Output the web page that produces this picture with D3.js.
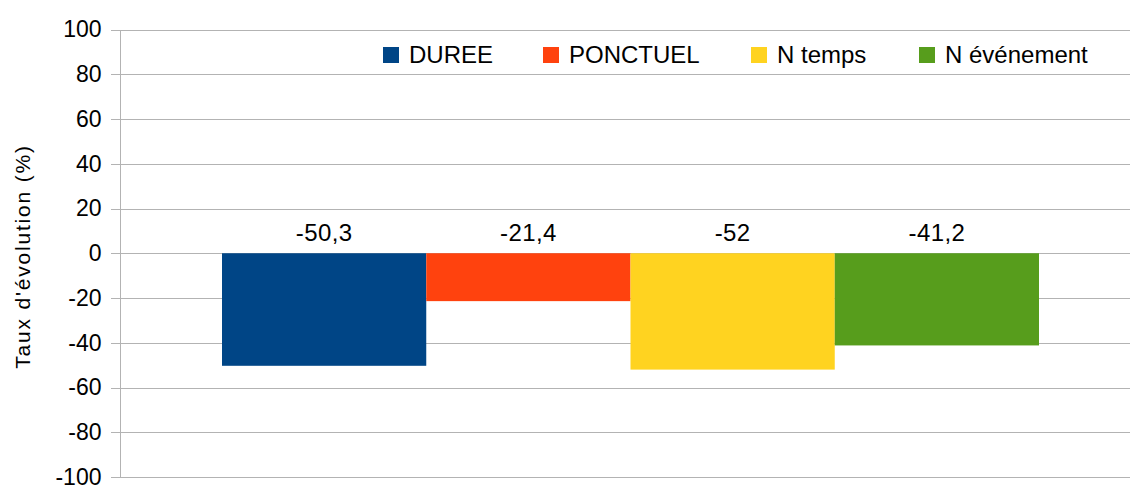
<!DOCTYPE html>
<html>
<head>
<meta charset="utf-8">
<script src="https://cdn.jsdelivr.net/npm/d3@7"></script>
<style>
  html, body { margin: 0; padding: 0; background: #fff; }
  svg { display: block; font-family: "Liberation Sans", Arial, sans-serif; }
</style>
</head>
<body>
<svg id="chart" width="1130" height="487"></svg>
<script>
// Series shown as one group of bars
const seriesNames = ["DUREE", "PONCTUEL", "N temps", "N événement"];
const seriesValues = [-50.3, -21.4, -52, -41.2];
const seriesColors = ["#004586", "#ff420e", "#ffd320", "#579d1c"];
const yTicks = [100, 80, 60, 40, 20, 0, -20, -40, -60, -80, -100];
const yTitle = "Taux d'évolution (%)";

const svg = d3.select("#chart");
const plot = { left: 120.5, right: 1140, top: 29.5, bottom: 477 };

const y = d3.scaleLinear().domain([-100, 100]).range([plot.bottom, plot.top]);

// Bar group occupies the middle of the plot area
const x = d3.scaleBand()
  .domain(seriesNames)
  .range([222, 1039])
  .paddingInner(0)
  .paddingOuter(0);

// Horizontal grid lines with outward ticks
const yAxis = d3.axisLeft(y)
  .tickValues(yTicks)
  .tickSize(-(plot.right - plot.left))
  .tickPadding(19)
  .tickFormat(d => String(d));

const gAxis = svg.append("g")
  .attr("transform", `translate(${plot.left},0)`)
  .call(yAxis);
gAxis.select(".domain").remove();
gAxis.selectAll(".tick line")
  .attr("x1", -10)
  .attr("stroke", "#b3b3b3")
  .attr("stroke-width", 1)
  .attr("shape-rendering", "crispEdges");
gAxis.selectAll(".tick text")
  .attr("font-size", 23)
  .attr("fill", "#000")
  .attr("font-family", "Liberation Sans, Arial, sans-serif");

// Vertical axis line
svg.append("line")
  .attr("x1", plot.left).attr("x2", plot.left)
  .attr("y1", plot.top).attr("y2", plot.bottom)
  .attr("stroke", "#b3b3b3")
  .attr("shape-rendering", "crispEdges");

// Bars
svg.append("g").selectAll("rect")
  .data(seriesNames)
  .join("rect")
  .attr("x", d => x(d))
  .attr("width", x.bandwidth())
  .attr("y", (d, i) => Math.min(y(0), y(seriesValues[i])))
  .attr("height", (d, i) => Math.abs(y(seriesValues[i]) - y(0)))
  .attr("fill", (d, i) => seriesColors[i]);

// Value labels above the zero line
const fmt = v => String(v).replace(".", ",");
svg.append("g").selectAll("text")
  .data(seriesNames)
  .join("text")
  .attr("x", d => x(d) + x.bandwidth() / 2)
  .attr("y", y(0) - 12)
  .attr("text-anchor", "middle")
  .attr("font-size", 24)
  .attr("letter-spacing", 0.4)
  .attr("fill", "#000")
  .text((d, i) => fmt(seriesValues[i]));

// Legend
const legendPos = [383, 543, 751, 919];
const legend = svg.append("g").selectAll("g")
  .data(seriesNames)
  .join("g")
  .attr("transform", (d, i) => `translate(${legendPos[i]},47)`);
legend.append("rect")
  .attr("width", 16).attr("height", 16)
  .attr("fill", (d, i) => seriesColors[i]);
legend.append("text")
  .attr("x", 26)
  .attr("y", 16.3)
  .attr("font-size", 24)
  .attr("fill", "#000")
  .text(d => d);

// Y axis title
svg.append("text")
  .attr("transform", `translate(30,256.5) rotate(-90)`)
  .attr("text-anchor", "middle")
  .attr("font-size", 21)
  .attr("letter-spacing", 1.8)
  .attr("fill", "#000")
  .text(yTitle);
</script>
</body>
</html>
